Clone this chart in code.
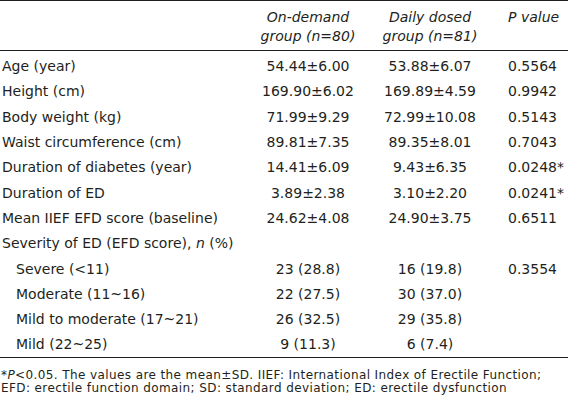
import React from "react";

const rowLabels = [
  "Age (year)",
  "Height (cm)",
  "Body weight (kg)",
  "Waist circumference (cm)",
  "Duration of diabetes (year)",
  "Duration of ED",
  "Mean IIEF EFD score (baseline)",
];
const onDemand = ["54.44±6.00", "169.90±6.02", "71.99±9.29", "89.81±7.35", "14.41±6.09", "3.89±2.38", "24.62±4.08"];
const dailyDosed = ["53.88±6.07", "169.89±4.59", "72.99±10.08", "89.35±8.01", "9.43±6.35", "3.10±2.20", "24.90±3.75"];
const pValues = ["0.5564", "0.9942", "0.5143", "0.7043", "0.0248*", "0.0241*", "0.6511"];

const severityLabels = ["Severe (<11)", "Moderate (11~16)", "Mild to moderate (17~21)", "Mild (22~25)"];
const severityOnDemand = ["23 (28.8)", "22 (27.5)", "26 (32.5)", "9 (11.3)"];
const severityDaily = ["16 (19.8)", "30 (37.0)", "29 (35.8)", "6 (7.4)"];
const severityP = ["0.3554", "", "", ""];

const ink = "#231f20";
const font = "'DejaVu Sans', sans-serif";

const rowH = 25.3;
const cell: React.CSSProperties = { padding: 0, whiteSpace: "nowrap" };

function Row({ label, a, b, p, indent }: { label: React.ReactNode; a: string; b: string; p: string; indent?: boolean }) {
  return (
    <tr style={{ height: rowH }}>
      <td style={{ ...cell, paddingLeft: indent ? 16 : 2 }}>{label}</td>
      <td style={{ ...cell, textAlign: "center" }}>{a}</td>
      <td style={{ ...cell, textAlign: "center" }}>{b}</td>
      <td style={{ ...cell, textAlign: "left", paddingLeft: 24 }}>{p}</td>
    </tr>
  );
}

const head: React.CSSProperties = {
  padding: 0,
  paddingTop: 7,
  fontWeight: "normal",
  fontStyle: "italic",
  lineHeight: "19px",
  verticalAlign: "top",
  whiteSpace: "nowrap",
};

export default function App() {
  return (
    <div
      style={{
        position: "absolute",
        left: 0,
        top: 0,
        width: 568,
        height: 400,
        background: "#fff",
        color: ink,
        fontFamily: font,
        overflow: "hidden",
      }}
    >
      <div style={{ borderTop: `1.5px solid ${ink}`, width: 568 }} />
      <table style={{ borderCollapse: "collapse", width: 568, fontSize: 14, tableLayout: "fixed" }}>
        <colgroup>
          <col style={{ width: 240 }} />
          <col style={{ width: 136 }} />
          <col style={{ width: 108 }} />
          <col style={{ width: 84 }} />
        </colgroup>
        <thead>
          <tr style={{ height: 49.5 }}>
            <th style={head} />
            <th style={{ ...head, textAlign: "center" }}>
              On-demand
              <br />
              group (n=80)
            </th>
            <th style={{ ...head, textAlign: "center" }}>
              Daily dosed
              <br />
              group (n=81)
            </th>
            <th style={{ ...head, textAlign: "left", paddingLeft: 24 }}>P value</th>
          </tr>
        </thead>
        <tbody style={{ borderTop: `1px solid ${ink}`, borderBottom: `1px solid ${ink}` }}>
          <tr style={{ height: 3 }}>
            <td colSpan={4} style={{ padding: 0 }} />
          </tr>
          {rowLabels.map((l, i) => (
            <Row key={l} label={l} a={onDemand[i]} b={dailyDosed[i]} p={pValues[i]} />
          ))}
          <Row
            label={
              <span>
                Severity of ED (EFD score), <i>n</i> (%)
              </span>
            }
            a=""
            b=""
            p=""
          />
          {severityLabels.map((l, i) => (
            <Row key={l} label={l} a={severityOnDemand[i]} b={severityDaily[i]} p={severityP[i]} indent />
          ))}
        </tbody>
      </table>
      <div
        style={{
          fontSize: 12,
          lineHeight: "13.5px",
          letterSpacing: 0.4,
          paddingLeft: 1,
          paddingTop: 11,
          width: 566,
          whiteSpace: "nowrap",
        }}
      >
        *<i>P</i>&lt;0.05. The values are the mean±SD. IIEF: International Index of Erectile Function;
        <br />
        EFD: erectile function domain; SD: standard deviation; ED: erectile dysfunction
      </div>
    </div>
  );
}
